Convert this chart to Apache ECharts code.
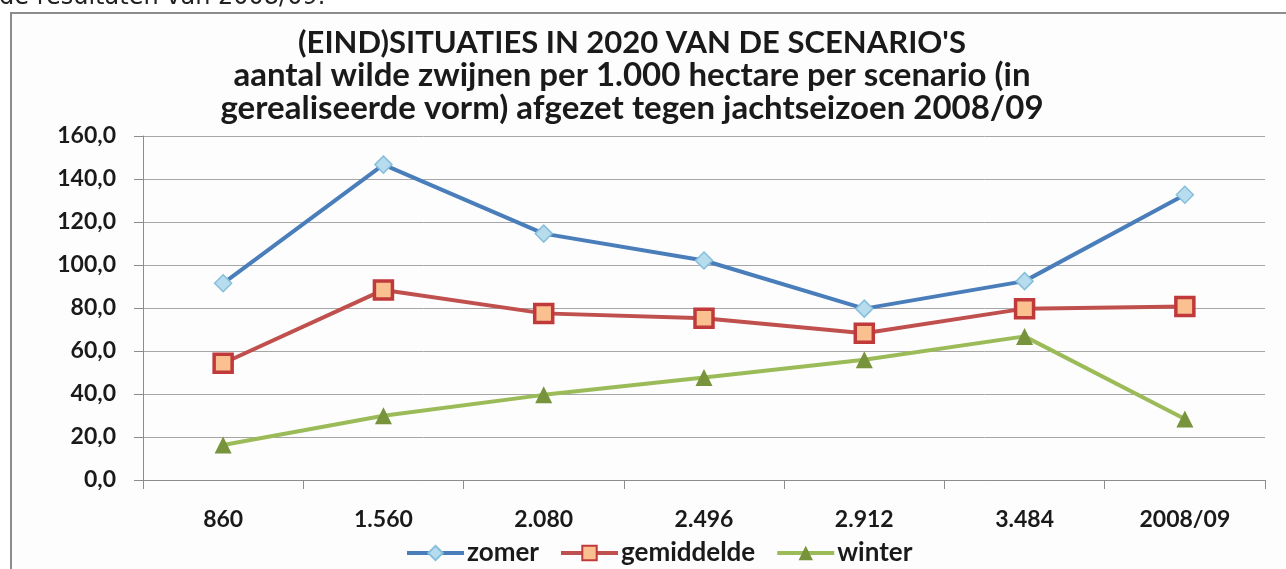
<!DOCTYPE html>
<html>
<head>
<meta charset="utf-8">
<script src="https://cdn.jsdelivr.net/npm/echarts@6/dist/echarts.min.js"></script>
<style>
html,body{margin:0;padding:0;background:#fff;}
#c{width:1286px;height:569px;}
</style>
</head>
<body>
<div id="c"></div>
<script>
var categories = ['860', '1.560', '2.080', '2.496', '2.912', '3.484', '2008/09'];
var zomer = [91.5, 146.7, 114.6, 102.1, 79.7, 92.5, 132.7];
var gemiddelde = [54.3, 88.4, 77.5, 75.2, 68.3, 79.7, 80.7];
var winter = [16.3, 29.9, 39.6, 47.7, 55.9, 66.8, 28.4];
var titleLines = [
  "(EIND)SITUATIES IN 2020 VAN DE SCENARIO'S",
  "aantal wilde zwijnen per 1.000 hectare per scenario (in",
  "gerealiseerde vorm) afgezet tegen jachtseizoen 2008/09"
];
var topText = 'de resultaten van 2008/09.';

var FONT = 'Lato';
var chart = echarts.init(document.getElementById('c'));
chart.setOption({
  backgroundColor: '#ffffff',
  animation: false,
  graphic: [
    {
      type: 'rect', left: 10, top: 12,
      shape: { width: 1290, height: 600 },
      style: { fill: '#fdfdfd', stroke: '#8c8c8c', lineWidth: 2 },
      z: -10
    },
    {
      type: 'text', left: -1, top: -14,
      style: { text: topText, font: '24px "DejaVu Sans"', fill: '#222' }
    }
  ],
  title: {
    text: '{a|' + titleLines[0] + '}\n{b|' + titleLines[1] + '}\n{b|' + titleLines[2] + '}',
    left: 627, top: 21,
    textAlign: 'center',
    textStyle: {
      fontFamily: FONT, fontWeight: 'bold', fontSize: 33,
      lineHeight: 33, color: '#1a1a1a', align: 'center',
      rich: {
        a: { fontFamily: FONT, fontWeight: 'bold', fontSize: 31, lineHeight: 33, color: '#1a1a1a', align: 'center' },
        b: { fontFamily: FONT, fontWeight: 'bold', fontSize: 33, lineHeight: 33, color: '#1a1a1a', align: 'center' }
      }
    }
  },
  legend: {
    bottom: -2, left: 400,
    itemWidth: 57, itemHeight: 18, itemGap: 20,
    lineStyle: { width: 4 },
    textStyle: { fontFamily: FONT, fontWeight: 'bold', fontSize: 26, color: '#1a1a1a', padding: [0, 0, 0, -2] },
    data: ['zomer', 'gemiddelde', 'winter']
  },
  grid: { left: 143, right: 21, top: 136, bottom: 89, containLabel: false },
  xAxis: {
    type: 'category', data: categories, boundaryGap: true,
    axisLine: { lineStyle: { color: '#8c8c8c', width: 1 } },
    axisTick: { show: true, length: 9, lineStyle: { color: '#8c8c8c' } },
    axisLabel: { margin: 28, fontFamily: FONT, fontWeight: 'bold', fontSize: 23, color: '#1a1a1a' }
  },
  yAxis: {
    type: 'value', min: 0, max: 160, interval: 20,
    axisLine: { show: true, lineStyle: { color: '#8c8c8c', width: 1 } },
    axisTick: { show: true, length: 9, lineStyle: { color: '#8c8c8c' } },
    splitLine: { lineStyle: { color: '#a6a6a6', width: 1 } },
    axisLabel: {
      margin: 27, fontFamily: FONT, fontWeight: 'bold', fontSize: 23, color: '#1a1a1a',
      formatter: function (v) { return v.toFixed(1).replace('.', ','); }
    }
  },
  series: [
    {
      name: 'zomer', type: 'line', data: zomer,
      symbol: 'diamond', symbolSize: 17,
      lineStyle: { color: '#4a7ebb', width: 4 },
      itemStyle: { color: '#b7dcee', borderColor: '#86bfdc', borderWidth: 1.5 }
    },
    {
      name: 'gemiddelde', type: 'line', data: gemiddelde,
      symbol: 'rect', symbolSize: 18,
      lineStyle: { color: '#c0504d', width: 4 },
      itemStyle: { color: '#fac090', borderColor: '#c0393b', borderWidth: 3.5 }
    },
    {
      name: 'winter', type: 'line', data: winter,
      symbol: 'triangle', symbolSize: 17,
      lineStyle: { color: '#9bbb59', width: 4 },
      itemStyle: { color: '#77933c', borderColor: '#77933c', borderWidth: 0 }
    }
  ]
});
</script>
</body>
</html>
